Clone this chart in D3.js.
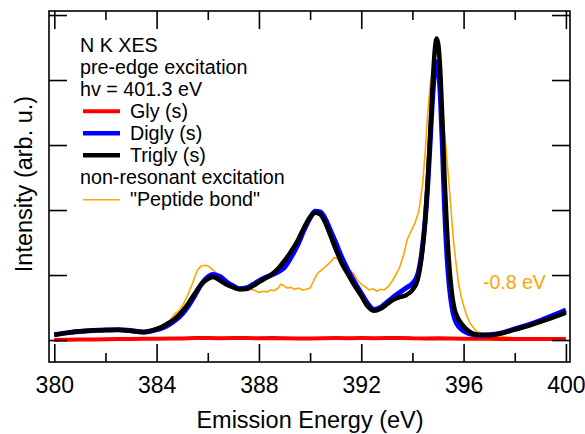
<!DOCTYPE html>
<html>
<head>
<meta charset="utf-8">
<script src="https://cdn.jsdelivr.net/npm/d3@7"></script>
<style>
  html, body { margin: 0; padding: 0; background: #fff; }
  svg { display: block; }
  text { font-family: "Liberation Sans", Arial, Helvetica, sans-serif; fill: #000; }
</style>
</head>
<body>
<svg id="chart" width="585" height="434"></svg>
<script>
// ---------------- data ----------------
const energy = [380.0, 380.5, 381.0, 381.5, 382.0, 382.5, 383.0, 383.5, 384.0, 384.25, 384.5, 384.75, 385.0, 385.25, 385.5, 385.75, 386.0, 386.2, 386.5, 386.75, 387.0, 387.25, 387.5, 387.75, 388.0, 388.25, 388.5, 388.75, 389.0, 389.25, 389.5, 389.75, 390.0, 390.2, 390.4, 390.6, 390.8, 391.0, 391.25, 391.5, 391.75, 392.0, 392.25, 392.5, 392.75, 393.0, 393.25, 393.5, 393.75, 394.0, 394.2, 394.35, 394.5, 394.6, 394.7, 394.8, 394.88, 394.95, 395.02, 395.1, 395.18, 395.26, 395.35, 395.45, 395.55, 395.65, 395.75, 395.9, 396.1, 396.3, 396.6, 397.0, 397.5, 398.0, 398.5, 399.0, 399.5, 400.0];

const trigly = [0.08, 0.11, 0.135, 0.145, 0.155, 0.16, 0.14, 0.12, 0.17, 0.21, 0.27, 0.34, 0.44, 0.57, 0.72, 0.86, 0.94, 0.97, 0.91, 0.85, 0.81, 0.78, 0.785, 0.83, 0.89, 0.95, 1.01, 1.1, 1.22, 1.36, 1.52, 1.72, 1.89, 1.96, 1.93, 1.8, 1.6, 1.4, 1.17, 1.0, 0.83, 0.68, 0.52, 0.45, 0.48, 0.55, 0.62, 0.66, 0.69, 0.77, 0.92, 1.25, 1.85, 2.45, 3.2, 4.0, 4.48, 4.64, 4.52, 4.05, 3.3, 2.45, 1.7, 1.1, 0.7, 0.47, 0.36, 0.26, 0.17, 0.11, 0.08, 0.075, 0.105, 0.16, 0.215, 0.28, 0.35, 0.42];

const digly = [0.08, 0.11, 0.13, 0.145, 0.155, 0.16, 0.145, 0.125, 0.16, 0.19, 0.24, 0.31, 0.4, 0.53, 0.69, 0.86, 0.97, 1.01, 0.97, 0.89, 0.83, 0.79, 0.8, 0.85, 0.91, 0.96, 1.0, 1.05, 1.12, 1.27, 1.45, 1.68, 1.88, 1.98, 1.97, 1.86, 1.68, 1.5, 1.26, 1.06, 0.88, 0.72, 0.56, 0.47, 0.5, 0.58, 0.66, 0.73, 0.8, 0.87, 1.0, 1.3, 1.85, 2.4, 3.1, 3.8, 4.18, 4.28, 4.15, 3.7, 2.9, 2.0, 1.3, 0.8, 0.5, 0.33, 0.24, 0.17, 0.12, 0.09, 0.075, 0.08, 0.11, 0.17, 0.23, 0.3, 0.38, 0.46];

const energyPeptide = [380.0, 380.4, 380.8, 381.2, 381.6, 382.0, 382.5, 383.0, 383.5, 384.0, 384.3, 384.5, 384.7, 384.85, 385.0, 385.2, 385.4, 385.6, 385.75, 385.9, 386.05, 386.2, 386.4, 386.6, 386.8, 387.0, 387.2, 387.4, 387.55, 387.7, 387.85, 388.0, 388.15, 388.3, 388.45, 388.6, 388.75, 388.85, 388.95, 389.1, 389.25, 389.4, 389.55, 389.7, 389.85, 390.0, 390.15, 390.3, 390.45, 390.6, 390.8, 390.95, 391.1, 391.25, 391.4, 391.55, 391.7, 391.85, 392.0, 392.15, 392.3, 392.45, 392.6, 392.75, 392.9, 393.05, 393.2, 393.35, 393.5, 393.65, 393.8, 393.95, 394.1, 394.25, 394.4, 394.5, 394.6, 394.7, 394.8, 394.9, 395.0, 395.1, 395.2, 395.3, 395.4, 395.5, 395.6, 395.7, 395.8, 395.9, 396.0, 396.1, 396.25, 396.5, 396.7, 396.9, 397.2, 397.5, 398.0, 398.5, 399.0, 399.5, 400.0];

const peptide = [0.09, 0.1, 0.15, 0.14, 0.15, 0.16, 0.16, 0.14, 0.13, 0.18, 0.24, 0.29, 0.4, 0.44, 0.52, 0.68, 0.87, 1.08, 1.14, 1.15, 1.13, 1.08, 1.0, 0.93, 0.86, 0.82, 0.79, 0.79, 0.8, 0.78, 0.76, 0.73, 0.75, 0.74, 0.77, 0.76, 0.8, 0.86, 0.84, 0.8, 0.81, 0.78, 0.8, 0.77, 0.78, 0.8, 0.92, 1.03, 1.08, 1.13, 1.2, 1.27, 1.24, 1.2, 1.12, 1.07, 1.02, 0.92, 0.86, 0.82, 0.77, 0.79, 0.75, 0.78, 0.77, 0.82, 0.9, 1.0, 1.12, 1.3, 1.55, 1.68, 1.8, 1.98, 2.4, 2.9, 3.5, 3.95, 4.2, 4.3, 4.2, 3.85, 3.45, 3.0, 2.55, 2.05, 1.55, 1.2, 0.88, 0.68, 0.53, 0.4, 0.26, 0.13, 0.1, 0.08, 0.06, 0.05, 0.035, 0.03, 0.025, 0.03, 0.025];

const energyGly = [380, 380.5, 381, 381.5, 382, 382.5, 383, 383.5, 384, 384.5, 385, 385.5, 386, 386.5, 387, 387.5, 388, 388.5, 389, 389.5, 390, 390.5, 391, 391.5, 392, 392.5, 393, 393.5, 394, 394.5, 395, 395.5, 396, 396.5, 397, 397.5, 398, 398.5, 399, 399.5, 400];
const gly = [0.0, 0.005, 0.008, 0.01, 0.012, 0.015, 0.016, 0.02, 0.02, 0.024, 0.025, 0.03, 0.03, 0.028, 0.03, 0.03, 0.028, 0.03, 0.026, 0.025, 0.025, 0.028, 0.03, 0.028, 0.03, 0.028, 0.03, 0.032, 0.026, 0.025, 0.026, 0.022, 0.02, 0.02, 0.018, 0.016, 0.015, 0.016, 0.015, 0.015, 0.015];

const xMajorTicks = [380, 384, 388, 392, 396, 400];
const xMinorTicks = [382, 386, 390, 394, 398];
const yTicks = [0, 1, 2, 3, 4, 5];

const legendHeader = ["N K XES", "pre-edge excitation", "hv = 401.3 eV"];
const legendSeries = ["Gly (s)", "Digly (s)", "Trigly (s)"];
const legendSubHeader = "non-resonant excitation";
const legendPeptide = "\"Peptide bond\"";
const shiftLabel = "-0.8 eV";
const xTitle = "Emission Energy (eV)";
const yTitle = "Intensity (arb. u.)";

// ---------------- layout ----------------
const colors = { gly: "#ff0000", digly: "#0000ff", trigly: "#000000", peptide: "#ffa500" };
const frame = { left: 49, right: 570, top: 11, bottom: 362 };

const x = d3.scaleLinear().domain([379.793, 400.16]).range([frame.left, frame.right]);
const y = d3.scaleLinear().domain([-0.338, 5.062]).range([frame.bottom, frame.top]);

const svg = d3.select("#chart");

svg.append("defs").append("clipPath").attr("id", "clip")
  .append("rect").attr("x", frame.left).attr("y", frame.top)
  .attr("width", frame.right - frame.left).attr("height", frame.bottom - frame.top);

const plot = svg.append("g").attr("clip-path", "url(#clip)");

function makeLine(xs, curve) {
  return d3.line().x((d, i) => x(xs[i])).y(d => y(d)).curve(curve);
}

plot.append("path").datum(peptide)
  .attr("d", makeLine(energyPeptide, d3.curveLinear))
  .attr("fill", "none").attr("stroke", colors.peptide).attr("stroke-width", 1.6)
  .attr("stroke-linejoin", "round");

plot.append("path").datum(gly)
  .attr("d", makeLine(energyGly, d3.curveLinear))
  .attr("fill", "none").attr("stroke", colors.gly).attr("stroke-width", 4)
  .attr("stroke-linejoin", "round");

plot.append("path").datum(digly)
  .attr("d", makeLine(energy, d3.curveMonotoneX))
  .attr("fill", "none").attr("stroke", colors.digly).attr("stroke-width", 5)
  .attr("stroke-linejoin", "round");

plot.append("path").datum(trigly)
  .attr("d", makeLine(energy, d3.curveMonotoneX))
  .attr("fill", "none").attr("stroke", colors.trigly).attr("stroke-width", 4.5)
  .attr("stroke-linejoin", "round");

// ---------------- axes ----------------
const axisStroke = 1.6;
function styleAxis(g) {
  g.selectAll(".domain").remove();
  g.selectAll(".tick line").attr("stroke", "#000").attr("stroke-width", axisStroke);
}

const bottomMajor = svg.append("g").attr("transform", `translate(0,${frame.bottom})`)
  .call(d3.axisBottom(x).tickValues(xMajorTicks).tickSize(-18).tickSizeOuter(0).tickFormat(d3.format("d")));
styleAxis(bottomMajor);
bottomMajor.selectAll(".tick text")
  .attr("y", 31).attr("dy", 0)
  .style("font-size", "23px")
  .style("font-family", "'Liberation Sans', Arial, sans-serif")
  .attr("fill", "#000");

const bottomMinor = svg.append("g").attr("transform", `translate(0,${frame.bottom})`)
  .call(d3.axisBottom(x).tickValues(xMinorTicks).tickSize(-9).tickSizeOuter(0).tickFormat(""));
styleAxis(bottomMinor);

const topMajor = svg.append("g").attr("transform", `translate(0,${frame.top})`)
  .call(d3.axisTop(x).tickValues(xMajorTicks).tickSize(-18).tickSizeOuter(0).tickFormat(""));
styleAxis(topMajor);
const topMinor = svg.append("g").attr("transform", `translate(0,${frame.top})`)
  .call(d3.axisTop(x).tickValues(xMinorTicks).tickSize(-9).tickSizeOuter(0).tickFormat(""));
styleAxis(topMinor);

const leftAxis = svg.append("g").attr("transform", `translate(${frame.left},0)`)
  .call(d3.axisLeft(y).tickValues(yTicks).tickSize(-18).tickSizeOuter(0).tickFormat(""));
styleAxis(leftAxis);
const rightAxis = svg.append("g").attr("transform", `translate(${frame.right},0)`)
  .call(d3.axisRight(y).tickValues(yTicks).tickSize(-18).tickSizeOuter(0).tickFormat(""));
styleAxis(rightAxis);

svg.append("rect")
  .attr("x", frame.left).attr("y", frame.top)
  .attr("width", frame.right - frame.left).attr("height", frame.bottom - frame.top)
  .attr("fill", "none").attr("stroke", "#000").attr("stroke-width", axisStroke);

// titles
svg.append("text").attr("x", 310).attr("y", 428)
  .attr("text-anchor", "middle").style("font-size", "23.5px").text(xTitle);

svg.append("text")
  .attr("transform", "translate(31.5,184) rotate(-90)")
  .attr("text-anchor", "middle").style("font-size", "23.5px").text(yTitle);

// ---------------- legend ----------------
const legend = svg.append("g");
const lineH = 22;
const base0 = 51.7;
const lfs = "19.7px";
legendHeader.forEach((t, i) => {
  legend.append("text").attr("x", 80).attr("y", base0 + i * lineH).style("font-size", lfs).text(t);
});
const seriesColors = [colors.gly, colors.digly, colors.trigly];
const seriesWidths = [4, 4.5, 4.5];
legendSeries.forEach((t, i) => {
  const b = base0 + (i + 3) * lineH;
  legend.append("line").attr("x1", 83).attr("x2", 120).attr("y1", b - 6.5).attr("y2", b - 6.5)
    .attr("stroke", seriesColors[i]).attr("stroke-width", seriesWidths[i]);
  legend.append("text").attr("x", 130).attr("y", b).style("font-size", lfs).text(t);
});
legend.append("text").attr("x", 80).attr("y", base0 + 6 * lineH).style("font-size", lfs).text(legendSubHeader);
{
  const b = base0 + 7 * lineH;
  legend.append("line").attr("x1", 83).attr("x2", 120).attr("y1", b - 6).attr("y2", b - 6)
    .attr("stroke", colors.peptide).attr("stroke-width", 1.6);
  legend.append("text").attr("x", 130).attr("y", b).style("font-size", lfs).text(legendPeptide);
}

svg.append("text").attr("x", 483).attr("y", 288.5)
  .style("font-size", "19.5px").style("fill", colors.peptide).text(shiftLabel);
</script>
</body>
</html>
